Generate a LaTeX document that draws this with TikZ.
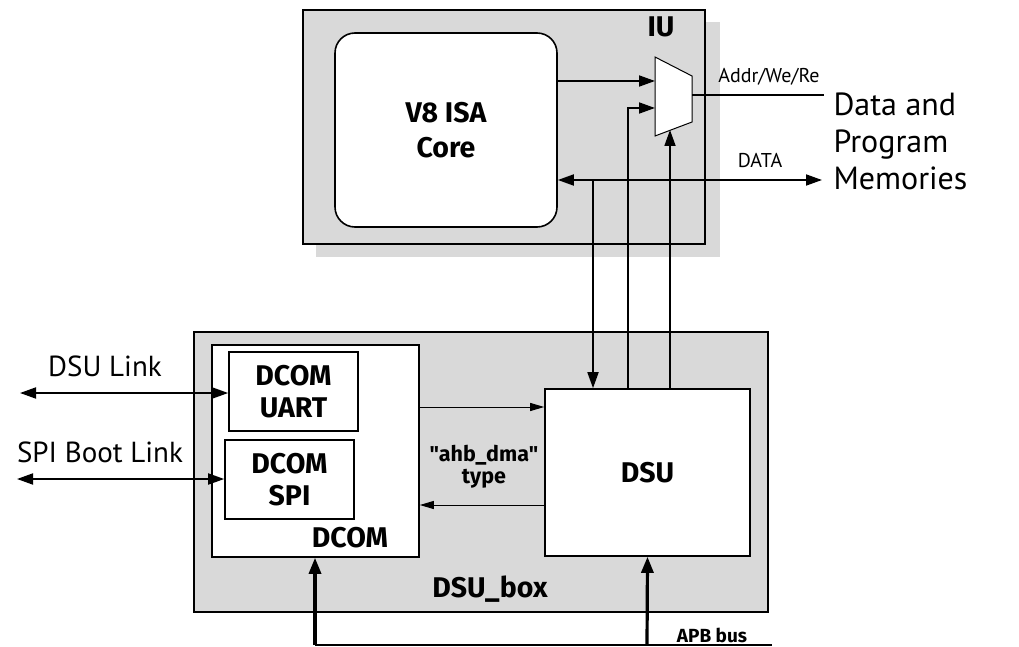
\documentclass[tikz,border=0pt]{standalone}
\usepackage{fontspec}
\setmainfont{PT Sans}
\newfontfamily\headfam{Fira Sans}
\usetikzlibrary{arrows.meta}
\definecolor{boxgray}{RGB}{217,217,217}
\tikzset{
  panel/.style={draw, line width=1.6pt, fill=boxgray, inner sep=0pt},
  block/.style={draw, line width=1.6pt, fill=white, inner sep=0pt},
  sig/.style={line width=1.8pt, -{Triangle[length=16pt,width=11pt]}},
  bisig/.style={line width=1.8pt, {Triangle[length=16pt,width=11pt]}-{Triangle[length=16pt,width=11pt]}},
  thinsig/.style={line width=1pt, -{Triangle[length=14pt,width=8pt]}},
  bussig/.style={line width=3.2pt, -{Triangle[length=16pt,width=12pt]}},
  bigbold/.style={font=\headfam\fontsize{28.5}{35}\selectfont\bfseries, align=center},
  midbold/.style={font=\headfam\fontsize{21.5}{26}\selectfont\bfseries, align=center},
  smallbold/.style={font=\headfam\fontsize{19}{22}\selectfont\bfseries},
  lbl/.style={font=\fontsize{29}{34}\selectfont},
  memlbl/.style={font=\fontsize{32}{37}\selectfont, align=left},
  sigtext/.style={font=\fontsize{20}{24}\selectfont},
}
\begin{document}
\begin{tikzpicture}[x=1pt, y=-1pt]
  \useasboundingbox (0,0) rectangle (1019,647);

  % integer unit with its shadow
  \path (504,127) node[minimum width=402pt, minimum height=234pt, inner sep=0pt] (iushape) {};
  \fill[boxgray] ([xshift=13pt,yshift=-12pt]iushape.north west) rectangle ([xshift=15pt,yshift=-13pt]iushape.south east);
  \node[panel, minimum width=402pt, minimum height=234pt] (iu) at (504,127) {};
  \node[bigbold] (iulabel) at (661,27) {IU};

  % processor core
  \node[block, bigbold, rounded corners=20pt, minimum width=222pt, minimum height=194pt] (core) at (446,130)
    {V8 ISA\\Core};

  % address multiplexer
  \draw[line width=1pt, fill=white] (655,57) -- (692,76) -- (692,122) -- (655,136) -- cycle;
  \coordinate (muxin1) at (655,81);
  \coordinate (muxin2) at (655,108);
  \coordinate (muxsel) at (670,130);
  \coordinate (muxout) at (692,95);
  \coordinate (addrend) at (824,95);
  \coordinate (dataend) at (822,180);

  % debug support box
  \node[panel, minimum width=574pt, minimum height=280pt] (dsubox) at (481,472) {};
  \node[bigbold] (dsuboxlabel) at (490,589) {DSU\_box};

  \node[block, minimum width=207pt, minimum height=212pt] (dcom) at (315.5,451) {};
  \node[bigbold] (dcomlabel) at (350,538) {DCOM};
  \node[block, bigbold, minimum width=129pt, minimum height=79pt] (uart) at (293.5,391.5) {DCOM\\[-3pt]UART};
  \node[block, bigbold, minimum width=129pt, minimum height=79pt] (spi) at (289.5,479.5) {DCOM\\[-3pt]SPI};

  \node[block, bigbold, minimum width=205pt, minimum height=167pt] (dsu) at (647.5,472.5) {DSU};

  % core to memories
  \draw[sig] (core.east |- muxin1) -- (muxin1);
  \draw[line width=1.8pt] (muxout) -- (addrend);
  \node[sigtext] (addrlabel) at (769,77) {Addr/We/Re};
  \draw[bisig] (core.east |- dataend) -- (dataend);
  \node[sigtext] (datalabel) at (760,160) {DATA};
  \node[memlbl, anchor=west] (mem) at (830,141) {Data and\\Program\\Memories};

  % debug unit to core
  \coordinate (tap) at (593,180);
  \draw[sig] (tap) -- (tap |- dsu.north);
  \draw[sig] (628,0 |- dsu.north) -- (628,108) -- (muxin2);
  \draw[sig] (muxsel |- dsu.north) -- (muxsel);

  % DCOM <-> DSU (ahb_dma)
  \draw[thinsig] (dcom.east |- 0,407) -- (dsu.west |- 0,407);
  \draw[thinsig] (dsu.west |- 0,505) -- (dcom.east |- 0,505);
  \node[midbold] (ahblabel) at (484,467) {\char34 ahb\_dma\char34\\[-4pt]type};

  % external links
  \coordinate (dsulinkend) at (20,393);
  \coordinate (spilinkend) at (17,479);
  \draw[bisig] (dsulinkend) -- (uart.west |- dsulinkend);
  \draw[bisig] (spilinkend) -- (spi.west |- spilinkend);
  \node[lbl] (dsulinklabel) at (105,366) {DSU Link};
  \node[lbl] (spilinklabel) at (100,452) {SPI Boot Link};

  % APB bus
  \coordinate (apbl) at (315,645);
  \coordinate (apbr) at (772,645);
  \draw[line width=1.5pt] (apbl) -- (apbr);
  \draw[bussig] (apbl) -- (apbl |- dcom.south);
  \draw[bussig] (647,645) -- (dsu.south);
  \node[smallbold] (apblabel) at (712,635) {APB bus};
\end{tikzpicture}
\end{document}
